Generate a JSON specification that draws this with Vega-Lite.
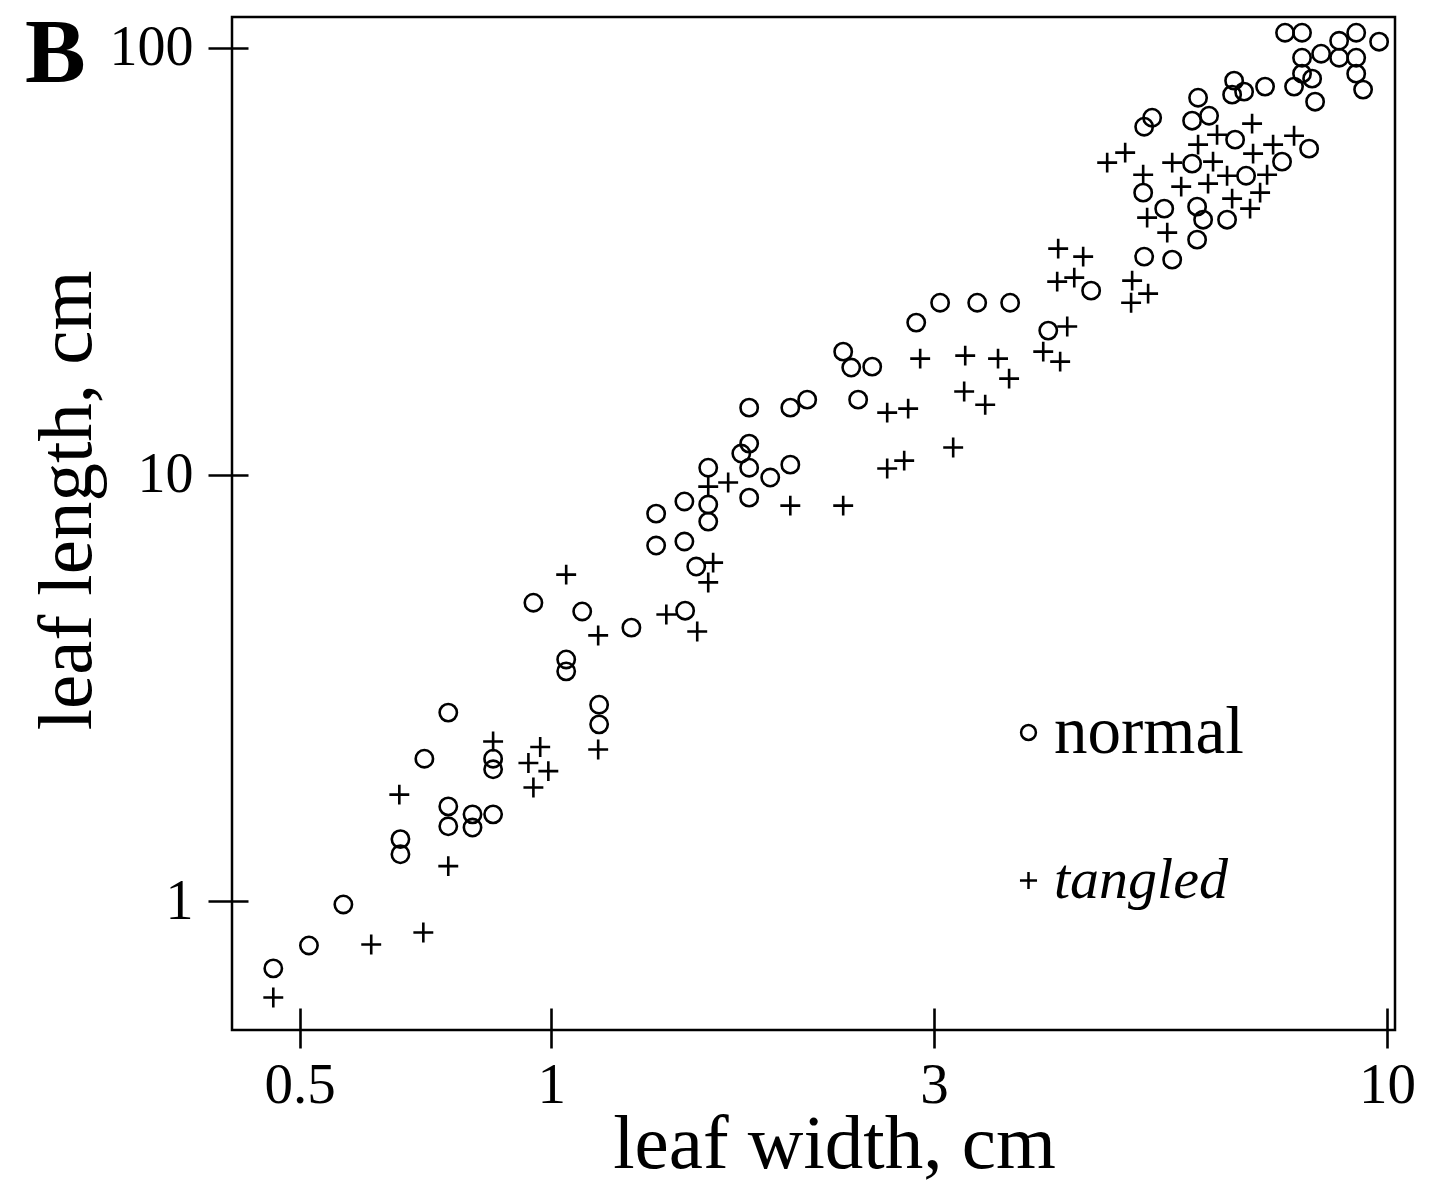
{
  "$schema": "https://vega.github.io/schema/vega-lite/v6.json",
  "width": 1163,
  "height": 1013,
  "autosize": "none",
  "padding": {"left": 232, "top": 17, "right": 35, "bottom": 153},
  "background": "white",
  "config": {
    "font": "Liberation Serif",
    "view": {"stroke": "black", "strokeWidth": 2.5},
    "axis": {"labelColor": "black", "tickColor": "black", "titleColor": "black", "titleFontWeight": "normal", "grid": false, "domain": false}
  },
  "title": {
    "text": "B",
    "anchor": "start",
    "frame": "group",
    "orient": "top",
    "offset": -83,
    "dx": -207,
    "dy": 73,
    "fontSize": 91,
    "font": "Liberation Serif",
    "fontWeight": "bold",
    "color": "black",
    "baseline": "alphabetic"
  },
  "data": {
    "values": [
      {"w": 0.952, "l": 5.01, "leaf": "normal"},
      {"w": 1.089, "l": 4.78, "leaf": "normal"},
      {"w": 1.247, "l": 4.38, "leaf": "normal"},
      {"w": 1.446, "l": 4.80, "leaf": "normal"},
      {"w": 1.042, "l": 3.69, "leaf": "normal"},
      {"w": 1.042, "l": 3.46, "leaf": "normal"},
      {"w": 1.141, "l": 2.89, "leaf": "normal"},
      {"w": 1.141, "l": 2.60, "leaf": "normal"},
      {"w": 0.753, "l": 2.77, "leaf": "normal"},
      {"w": 0.705, "l": 2.16, "leaf": "normal"},
      {"w": 0.852, "l": 2.16, "leaf": "normal"},
      {"w": 0.852, "l": 2.04, "leaf": "normal"},
      {"w": 0.753, "l": 1.67, "leaf": "normal"},
      {"w": 0.753, "l": 1.50, "leaf": "normal"},
      {"w": 0.805, "l": 1.60, "leaf": "normal"},
      {"w": 0.805, "l": 1.49, "leaf": "normal"},
      {"w": 0.852, "l": 1.60, "leaf": "normal"},
      {"w": 0.660, "l": 1.40, "leaf": "normal"},
      {"w": 0.660, "l": 1.29, "leaf": "normal"},
      {"w": 0.564, "l": 0.984, "leaf": "normal"},
      {"w": 0.513, "l": 0.789, "leaf": "normal"},
      {"w": 0.465, "l": 0.697, "leaf": "normal"},
      {"w": 2.733, "l": 22.70, "leaf": "normal"},
      {"w": 2.235, "l": 19.41, "leaf": "normal"},
      {"w": 2.285, "l": 17.81, "leaf": "normal"},
      {"w": 2.421, "l": 17.90, "leaf": "normal"},
      {"w": 1.725, "l": 14.35, "leaf": "normal"},
      {"w": 1.932, "l": 14.35, "leaf": "normal"},
      {"w": 2.024, "l": 14.98, "leaf": "normal"},
      {"w": 2.329, "l": 14.98, "leaf": "normal"},
      {"w": 1.725, "l": 11.82, "leaf": "normal"},
      {"w": 1.688, "l": 11.20, "leaf": "normal"},
      {"w": 1.541, "l": 10.38, "leaf": "normal"},
      {"w": 1.725, "l": 10.38, "leaf": "normal"},
      {"w": 1.828, "l": 9.84, "leaf": "normal"},
      {"w": 1.932, "l": 10.55, "leaf": "normal"},
      {"w": 1.725, "l": 8.83, "leaf": "normal"},
      {"w": 1.443, "l": 8.65, "leaf": "normal"},
      {"w": 1.335, "l": 8.10, "leaf": "normal"},
      {"w": 1.541, "l": 8.51, "leaf": "normal"},
      {"w": 1.541, "l": 7.76, "leaf": "normal"},
      {"w": 1.335, "l": 6.82, "leaf": "normal"},
      {"w": 1.443, "l": 6.97, "leaf": "normal"},
      {"w": 1.491, "l": 6.09, "leaf": "normal"},
      {"w": 4.425, "l": 26.97, "leaf": "normal"},
      {"w": 2.919, "l": 25.27, "leaf": "normal"},
      {"w": 3.233, "l": 25.27, "leaf": "normal"},
      {"w": 3.540, "l": 25.27, "leaf": "normal"},
      {"w": 3.932, "l": 21.74, "leaf": "normal"},
      {"w": 7.549, "l": 108.4, "leaf": "normal"},
      {"w": 7.911, "l": 108.4, "leaf": "normal"},
      {"w": 8.762, "l": 103.8, "leaf": "normal"},
      {"w": 9.184, "l": 108.4, "leaf": "normal"},
      {"w": 9.782, "l": 103.3, "leaf": "normal"},
      {"w": 7.911, "l": 94.75, "leaf": "normal"},
      {"w": 8.338, "l": 96.81, "leaf": "normal"},
      {"w": 8.762, "l": 94.75, "leaf": "normal"},
      {"w": 9.184, "l": 94.75, "leaf": "normal"},
      {"w": 7.911, "l": 86.94, "leaf": "normal"},
      {"w": 8.134, "l": 84.63, "leaf": "normal"},
      {"w": 9.184, "l": 86.94, "leaf": "normal"},
      {"w": 7.739, "l": 81.06, "leaf": "normal"},
      {"w": 9.360, "l": 79.76, "leaf": "normal"},
      {"w": 8.201, "l": 74.74, "leaf": "normal"},
      {"w": 6.561, "l": 83.72, "leaf": "normal"},
      {"w": 6.525, "l": 77.62, "leaf": "normal"},
      {"w": 6.744, "l": 78.89, "leaf": "normal"},
      {"w": 7.145, "l": 81.06, "leaf": "normal"},
      {"w": 5.941, "l": 76.35, "leaf": "normal"},
      {"w": 5.844, "l": 67.46, "leaf": "normal"},
      {"w": 6.124, "l": 69.30, "leaf": "normal"},
      {"w": 5.235, "l": 68.55, "leaf": "normal"},
      {"w": 5.121, "l": 65.31, "leaf": "normal"},
      {"w": 6.579, "l": 60.89, "leaf": "normal"},
      {"w": 8.067, "l": 58.01, "leaf": "normal"},
      {"w": 7.487, "l": 54.08, "leaf": "normal"},
      {"w": 5.844, "l": 53.50, "leaf": "normal"},
      {"w": 5.107, "l": 45.76, "leaf": "normal"},
      {"w": 6.781, "l": 50.14, "leaf": "normal"},
      {"w": 5.412, "l": 41.97, "leaf": "normal"},
      {"w": 5.925, "l": 42.43, "leaf": "normal"},
      {"w": 6.024, "l": 39.55, "leaf": "normal"},
      {"w": 6.435, "l": 39.55, "leaf": "normal"},
      {"w": 5.925, "l": 35.51, "leaf": "normal"},
      {"w": 5.121, "l": 32.40, "leaf": "normal"},
      {"w": 5.532, "l": 31.88, "leaf": "normal"},
      {"w": 1.042, "l": 5.83, "leaf": "tangled"},
      {"w": 1.138, "l": 4.20, "leaf": "tangled"},
      {"w": 1.373, "l": 4.70, "leaf": "tangled"},
      {"w": 1.138, "l": 2.27, "leaf": "tangled"},
      {"w": 0.658, "l": 1.78, "leaf": "tangled"},
      {"w": 0.852, "l": 2.37, "leaf": "tangled"},
      {"w": 0.970, "l": 2.30, "leaf": "tangled"},
      {"w": 0.939, "l": 2.11, "leaf": "tangled"},
      {"w": 0.992, "l": 2.02, "leaf": "tangled"},
      {"w": 0.952, "l": 1.85, "leaf": "tangled"},
      {"w": 0.753, "l": 1.21, "leaf": "tangled"},
      {"w": 0.609, "l": 0.793, "leaf": "tangled"},
      {"w": 0.703, "l": 0.846, "leaf": "tangled"},
      {"w": 0.465, "l": 0.596, "leaf": "tangled"},
      {"w": 2.763, "l": 18.69, "leaf": "tangled"},
      {"w": 3.128, "l": 19.00, "leaf": "tangled"},
      {"w": 3.424, "l": 18.69, "leaf": "tangled"},
      {"w": 3.530, "l": 16.78, "leaf": "tangled"},
      {"w": 2.523, "l": 13.97, "leaf": "tangled"},
      {"w": 2.673, "l": 14.27, "leaf": "tangled"},
      {"w": 3.119, "l": 15.65, "leaf": "tangled"},
      {"w": 3.305, "l": 14.58, "leaf": "tangled"},
      {"w": 3.026, "l": 11.57, "leaf": "tangled"},
      {"w": 2.644, "l": 10.78, "leaf": "tangled"},
      {"w": 2.523, "l": 10.33, "leaf": "tangled"},
      {"w": 1.541, "l": 9.37, "leaf": "tangled"},
      {"w": 1.628, "l": 9.58, "leaf": "tangled"},
      {"w": 1.932, "l": 8.46, "leaf": "tangled"},
      {"w": 2.235, "l": 8.46, "leaf": "tangled"},
      {"w": 1.562, "l": 6.22, "leaf": "tangled"},
      {"w": 1.541, "l": 5.59, "leaf": "tangled"},
      {"w": 1.495, "l": 4.29, "leaf": "tangled"},
      {"w": 4.041, "l": 33.83, "leaf": "tangled"},
      {"w": 4.329, "l": 32.40, "leaf": "tangled"},
      {"w": 4.030, "l": 28.31, "leaf": "tangled"},
      {"w": 4.224, "l": 28.93, "leaf": "tangled"},
      {"w": 4.954, "l": 28.47, "leaf": "tangled"},
      {"w": 5.177, "l": 26.54, "leaf": "tangled"},
      {"w": 4.940, "l": 25.27, "leaf": "tangled"},
      {"w": 4.143, "l": 22.22, "leaf": "tangled"},
      {"w": 3.878, "l": 19.41, "leaf": "tangled"},
      {"w": 4.063, "l": 18.39, "leaf": "tangled"},
      {"w": 6.894, "l": 66.38, "leaf": "tangled"},
      {"w": 6.260, "l": 62.55, "leaf": "tangled"},
      {"w": 5.941, "l": 59.28, "leaf": "tangled"},
      {"w": 7.739, "l": 62.21, "leaf": "tangled"},
      {"w": 7.305, "l": 59.28, "leaf": "tangled"},
      {"w": 6.913, "l": 56.47, "leaf": "tangled"},
      {"w": 4.625, "l": 53.79, "leaf": "tangled"},
      {"w": 4.860, "l": 56.78, "leaf": "tangled"},
      {"w": 5.532, "l": 53.79, "leaf": "tangled"},
      {"w": 6.191, "l": 54.08, "leaf": "tangled"},
      {"w": 5.107, "l": 50.41, "leaf": "tangled"},
      {"w": 5.671, "l": 47.27, "leaf": "tangled"},
      {"w": 6.107, "l": 48.04, "leaf": "tangled"},
      {"w": 6.435, "l": 50.14, "leaf": "tangled"},
      {"w": 7.185, "l": 50.41, "leaf": "tangled"},
      {"w": 7.048, "l": 45.76, "leaf": "tangled"},
      {"w": 6.525, "l": 44.30, "leaf": "tangled"},
      {"w": 6.856, "l": 41.97, "leaf": "tangled"},
      {"w": 5.163, "l": 39.98, "leaf": "tangled"},
      {"w": 5.457, "l": 36.88, "leaf": "tangled"}
    ]
  },
  "mark": {"type": "point", "filled": false, "color": "black", "strokeWidth": 2.6, "opacity": 1, "size": 300},
  "encoding": {
    "x": {
      "field": "w",
      "type": "quantitative",
      "scale": {"type": "log", "domain": [0.415, 10.22], "nice": false},
      "axis": {
        "values": [0.5, 1, 2.87, 10],
        "labelExpr": "datum.value < 0.7 ? '0.5' : datum.value < 2 ? '1' : datum.value < 5 ? '3' : '10'",
        "offset": -22,
        "tickSize": 40,
        "tickWidth": 2.6,
        "labelFontSize": 57,
        "labelPadding": 9,
        "labelFlush": false,
        "labelOverlap": false,
        "labelBound": false,
        "title": "leaf width, cm",
        "titleFontSize": 77,
        "titleBaseline": "alphabetic",
        "titleAlign": "center",
        "titleX": 602,
        "titleY": 159
      }
    },
    "y": {
      "field": "l",
      "type": "quantitative",
      "scale": {"type": "log", "domain": [0.5, 118], "nice": false},
      "axis": {
        "values": [1, 10, 100],
        "labelExpr": "datum.value + ''",
        "offset": -16,
        "tickSize": 40,
        "tickWidth": 2.6,
        "labelFontSize": 56,
        "labelPadding": 15,
        "labelOverlap": false,
        "labelBound": false,
        "title": "leaf length, cm",
        "titleFontSize": 77,
        "titleAngle": -90,
        "titleBaseline": "alphabetic",
        "titleAlign": "center",
        "titleX": -158,
        "titleY": 483
      }
    },
    "shape": {
      "field": "leaf",
      "type": "nominal",
      "scale": {"domain": ["normal", "tangled"], "range": ["circle", "M-1.15,0H1.15M0,-1.15V1.15"]},
      "legend": {
        "orient": "none",
        "legendX": 763,
        "legendY": 682,
        "title": null,
        "labelFontSize": {"expr": "datum.value === 'tangled' ? 58 : 67"},
        "labelFontStyle": {"expr": "datum.value === 'tangled' ? 'italic' : 'normal'"},
        "labelColor": "black",
        "labelLimit": 600,
        "labelOffset": -8,
        "symbolSize": 220,
        "symbolStrokeWidth": 2.5,
        "symbolStrokeColor": "black",
        "symbolFillColor": "transparent",
        "rowPadding": 81
      }
    }
  }
}
